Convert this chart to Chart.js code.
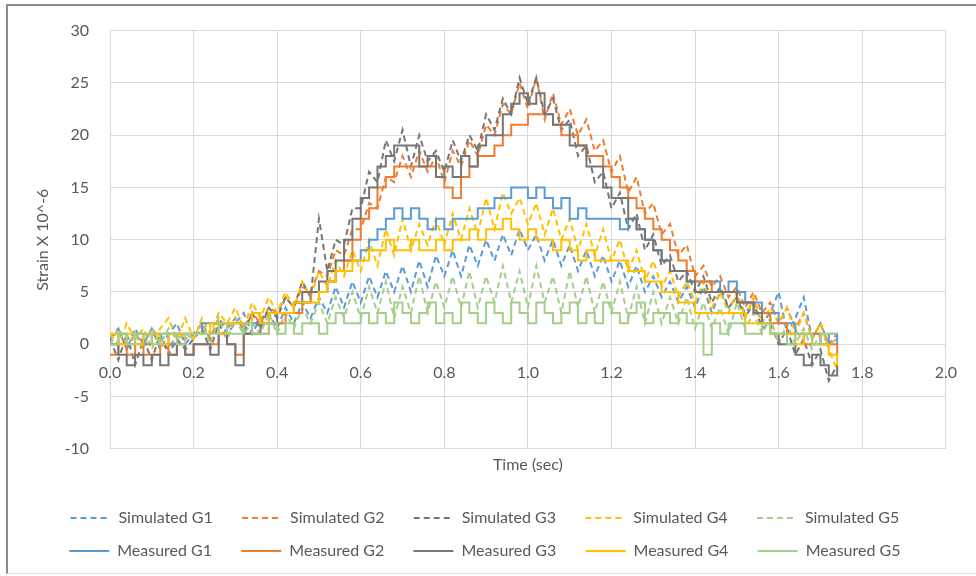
<!DOCTYPE html>
<html>
<head>
<meta charset="utf-8">
<script src="https://cdn.jsdelivr.net/npm/chart.js@4.4.0/dist/chart.umd.min.js"></script>
<style>
  html, body { margin: 0; padding: 0; background: #fff; }
  #wrap { position: relative; width: 976px; height: 576px; overflow: hidden; }
  #frame { position: absolute; left: 6px; top: 4px; width: 980px; height: 567px; border-left: 2px solid #8c8c8c; border-top: 2px solid #8c8c8c; border-bottom: 1px solid #e4e4e4; pointer-events: none; }
</style>
</head>
<body>
<div id="wrap">
  <canvas id="strainChart" width="976" height="576"></canvas>
  <div id="frame"></div>
</div>
<script>
// time axis (sec)
const time = [
  0, 0.02, 0.04, 0.06, 0.08, 0.1, 0.12, 0.14, 0.16, 0.18,
  0.2, 0.22, 0.24, 0.26, 0.28, 0.3, 0.32, 0.34, 0.36, 0.38,
  0.4, 0.42, 0.44, 0.46, 0.48, 0.5, 0.52, 0.54, 0.56, 0.58,
  0.6, 0.62, 0.64, 0.66, 0.68, 0.7, 0.72, 0.74, 0.76, 0.78,
  0.8, 0.82, 0.84, 0.86, 0.88, 0.9, 0.92, 0.94, 0.96, 0.98,
  1.0, 1.02, 1.04, 1.06, 1.08, 1.1, 1.12, 1.14, 1.16, 1.18,
  1.2, 1.22, 1.24, 1.26, 1.28, 1.3, 1.32, 1.34, 1.36, 1.38,
  1.4, 1.42, 1.44, 1.46, 1.48, 1.5, 1.52, 1.54, 1.56, 1.58,
  1.6, 1.62, 1.64, 1.66, 1.68, 1.7, 1.72, 1.74
];

// simulated strain (x 10^-6)
const simG1 = [
  0.5, 1.5, -0.5, 1.5, 0, 1.5, -0.5, 1, 2, 0,
  1, 2, 0.5, 2.5, 1, 2, 3, 1, 2.5, 3,
  1.5, 3.5, 2, 4, 2.5, 4.5, 3, 5.5, 3.5, 6,
  4, 6.5, 4.5, 7, 5, 7.5, 5, 8, 5.5, 8.5,
  6.5, 9, 6.5, 9.5, 7.5, 10, 8, 10.5, 8.5, 11,
  9, 10.5, 8, 10, 7.5, 9.5, 7, 9, 6.5, 8.5,
  6, 8, 5.5, 7.5, 5, 6.5, 4.5, 6, 4, 5.5,
  3.5, 5.5, 3, 5, 3.5, 4.5, 3, 4, 2, 3,
  5, 1, 2.5, 4.5, 0.5, 2, 0, 0.5
];
const simG2 = [
  0, 1.5, -0.5, 1, 0, 1.5, 0.5, -0.5, 1, 0.5,
  1, 2, 0.5, 2.5, 1.5, 2.5, 1.5, 3, 2, 3.5,
  3, 4.5, 3.5, 5.5, 5, 7, 6.5, 9, 8.5, 11,
  11, 13.5, 13, 16, 15.5, 18, 16, 18.5, 16.5, 18,
  15.5, 18.5, 17, 19.5, 18, 21, 20, 23, 22, 25,
  22.5, 25.5, 21.5, 24, 21, 22.5, 20, 21.5, 18.5, 19.5,
  16.5, 18, 14.5, 16, 12.5, 13.5, 10.5, 11.5, 8.5, 9.5,
  6.5, 7.5, 5.5, 6.5, 4.5, 5.5, 3.5, 5, 3, 4,
  2, 3.5, 1.5, 3, 0.5, 2, 0, 1
];
const simG3 = [
  0.5, -1.5, 1, -2, 0.5, -1.5, 1, -1, 0.5, -0.5,
  0.5, 1.5, -0.5, 2, 0.5, 2.5, 1, 3, 1.5, 3.5,
  2.5, 4.5, 3.5, 6, 4.5, 12, 7, 10, 9.5, 13,
  13, 16.5, 15.5, 19.5, 17.5, 20.5, 17, 20, 17.5, 18.5,
  16.5, 19.5, 17.5, 20, 18.5, 22, 20.5, 23.5, 22, 25.5,
  23, 25.5, 22, 23.5, 20.5, 21.5, 18, 19, 15.5, 16.5,
  13, 14.5, 11, 12.5, 9, 10.5, 7.5, 8.5, 6, 7,
  5, 6.5, 4, 5.5, 3.5, 4.5, 2.5, 4, 1.5, 2,
  0, 1.5, -1, 0.5, -2, -0.5, -3.5, -2
];
const simG4 = [
  1, 0, 2, 0.5, 1.5, -0.5, 1.5, 2.5, 0.5, 2.5,
  0.5, 2.5, 1, 3, 2, 3.5, 1.5, 4, 2.5, 4.5,
  3, 5, 3.5, 6, 4.5, 7, 5.5, 8, 6.5, 9,
  7, 10, 7.5, 11, 8.5, 12, 9, 11.5, 9.5, 12,
  9.5, 12.5, 10, 13, 10.5, 14, 11, 14.5, 12.5, 14,
  11.5, 13.5, 10.5, 13, 10, 12, 9, 11.5, 8.5, 11,
  8, 10, 7, 9, 6, 8, 5.5, 7, 4.5, 6,
  4, 6, 3.5, 5, 3, 5, 2.5, 4.5, 2, 3.5,
  2, 3.5, 1, 3, 0.5, 2, -0.5, -2.5
];
const simG5 = [
  0, 1.5, 0, 1, -0.5, 1.5, 0, 1.5, 0.5, 1,
  0.5, 2, 0, 2.5, 0.5, 2.5, 1, 2, 1, 3,
  1, 3, 1.5, 3.5, 2, 4, 2, 4.5, 2.5, 5,
  2.5, 5.5, 3, 6, 2.5, 5.5, 3, 6.5, 3, 6,
  3.5, 6.5, 3.5, 7, 3.5, 6.5, 4, 7.5, 4, 7,
  3.5, 7.5, 4, 6.5, 3, 7, 3.5, 6.5, 3, 6,
  3, 6, 2.5, 5.5, 2, 5, 2, 4.5, 2, 4.5,
  1.5, 4, 1.5, 3.5, 1, 4, 1.5, 3, 1, 2.5,
  0, 2, 0, 1.5, -0.5, 1, 0, 0.5
];

// measured strain (x 10^-6)
const measG1 = [
  0, 1, 0, 1, 0, 1, 1, 0, 1, 1,
  1, 2, 2, 2, 2, 2, 1, 2, 2, 3,
  3, 3, 4, 4, 5, 5, 6, 7, 8, 8,
  9, 10, 11, 12, 13, 12, 13, 12, 11, 12,
  11, 12, 12, 12, 13, 13, 14, 14, 15, 15,
  14, 15, 14, 13, 14, 12, 13, 12, 12, 12,
  12, 11, 12, 11, 10, 9, 8, 7, 7, 6,
  6, 6, 6, 5, 6, 5, 4, 4, 3, 3,
  2, 2, 1, 1, 1, 0, 1, 0
];
const measG2 = [
  -1, 0, -1, 0, -1, -1, 0, -1, 0, -1,
  0, 0, 0, 1, 0, -1, 1, 1, 1, 2,
  2, 3, 3, 4, 5, 5, 6, 7, 8, 10,
  12, 13, 15, 16, 17, 17, 17, 17, 17, 16,
  15, 14, 16, 17, 18, 18, 19, 20, 21, 21,
  22, 22, 22, 21, 20, 20, 19, 18, 18, 17,
  16, 15, 14, 13, 12, 11, 10, 9, 8, 7,
  6, 6, 5, 5, 5, 4, 4, 3, 3, 2,
  2, 1, 1, 0, 1, 0, 0, -1
];
const measG3 = [
  0, -1, -2, -1, -2, -1, -2, -1, 0, -1,
  0, 0, -1, 1, 0, -2, 1, 1, 2, 2,
  3, 3, 4, 5, 5, 6, 7, 8, 10, 12,
  14, 15, 17, 18, 19, 19, 19, 17, 18, 16,
  17, 16, 18, 17, 19, 20, 20, 22, 23, 24,
  23, 24, 22, 21, 21, 19, 19, 17, 17, 15,
  14, 14, 12, 11, 10, 9, 8, 7, 7, 6,
  5, 5, 5, 5, 5, 4, 4, 3, 2, 1,
  0, 0, -1, -2, -1, -2, -3, -2
];
const measG4 = [
  1, 0, 1, 0, 1, 1, 0, 1, 1, 1,
  1, 1, 2, 1, 2, 2, 2, 3, 2, 3,
  3, 3, 4, 4, 4, 5, 6, 7, 7, 8,
  8, 9, 9, 10, 9, 9, 10, 9, 9, 10,
  9, 10, 10, 11, 10, 11, 11, 12, 11, 10,
  11, 10, 10, 9, 10, 9, 8, 9, 8, 8,
  8, 8, 7, 7, 6, 6, 5, 5, 4, 4,
  3, 3, 3, 3, 3, 3, 2, 2, 2, 1,
  1, 1, 0, 1, 0, 0, -1, -2
];
const measG5 = [
  0, 1, 0, 1, 1, 0, 1, 1, 0, 1,
  1, 1, 1, 2, 1, 1, 2, 1, 1, 2,
  1, 2, 1, 2, 2, 1, 2, 3, 2, 2,
  3, 2, 3, 2, 4, 3, 2, 3, 4, 2,
  3, 2, 4, 3, 2, 4, 3, 2, 4, 3,
  2, 4, 3, 2, 3, 4, 2, 3, 2, 4,
  3, 2, 3, 4, 2, 3, 3, 2, 3, 2,
  2, -1, 2, 1, 2, 2, 1, 1, 2, 1,
  1, 0, 1, 1, 0, 1, 1, 1
];

const xTicks = [0, 0.2, 0.4, 0.6, 0.8, 1.0, 1.2, 1.4, 1.6, 1.8, 2.0];

const seriesNames = [
  'Simulated G1', 'Simulated G2', 'Simulated G3', 'Simulated G4', 'Simulated G5',
  'Measured G1', 'Measured G2', 'Measured G3', 'Measured G4', 'Measured G5'
];
const seriesValues = [simG1, simG2, simG3, simG4, simG5, measG1, measG2, measG3, measG4, measG5];
const groupColors = ['#5B9BD5', '#ED7D31', '#767676', '#FFC000', '#A3CF8A'];

const textColor = '#595959';
const gridColor = '#D9D9D9';
const baseFont = { family: 'Lato', size: 16 };

function toPoints(values) {
  return values.map((v, i) => ({ x: time[i], y: v }));
}

const datasets = seriesValues.map((values, k) => {
  const measured = k >= 5;
  return {
    label: seriesNames[k],
    data: toPoints(values),
    borderColor: groupColors[k % 5],
    backgroundColor: groupColors[k % 5],
    borderWidth: 2,
    borderDash: measured ? [] : [6, 4],
    stepped: measured,
    pointRadius: 0,
    tension: 0,
    order: 10 - k, // later series drawn on top, like Excel
    xAxisID: 'x',
    yAxisID: 'y'
  };
});

new Chart(document.getElementById('strainChart'), {
  type: 'line',
  data: { datasets: datasets },
  options: {
    responsive: false,
    animation: false,
    layout: { padding: { left: 6, right: 0, top: 27, bottom: 7 } },
    scales: {
      x: {
        type: 'linear',
        position: { y: 0 },
        min: 0,
        max: 2,
        afterBuildTicks: (scale) => { scale.ticks = xTicks.map(v => ({ value: v })); },
        ticks: {
          callback: (v) => Number(v).toFixed(1),
          color: textColor,
          font: baseFont,
          padding: 19,
          maxRotation: 0
        },
        grid: { color: gridColor, drawTicks: false },
        border: { display: true, color: gridColor }
      },
      x2: {
        type: 'linear',
        position: 'bottom',
        min: 0,
        max: 2,
        ticks: { display: false },
        grid: { display: false, drawTicks: false },
        border: { display: false },
        title: {
          display: true,
          text: 'Time (sec)',
          color: textColor,
          font: baseFont,
          padding: { top: 6, bottom: 19 }
        }
      },
      y: {
        min: -10,
        max: 30,
        ticks: { stepSize: 5, color: textColor, font: baseFont, padding: 21 },
        grid: { color: gridColor, drawTicks: false },
        border: { display: false },
        title: {
          display: true,
          text: 'Strain X 10^-6',
          color: textColor,
          font: baseFont,
          padding: { top: 27, bottom: 0 }
        },
        afterFit: (scale) => { scale.width = 104; }
      },
      yR: {
        position: 'right',
        min: -10,
        max: 30,
        ticks: { display: false },
        grid: { display: false, drawTicks: false },
        border: { display: false },
        afterFit: (scale) => { scale.width = 24; }
      }
    },
    plugins: {
      legend: {
        position: 'bottom',
        labels: {
          usePointStyle: true,
          pointStyle: 'line',
          pointStyleWidth: 40,
          padding: 17,
          color: textColor,
          font: baseFont,
          // dashed samples for simulated series, wider items like Excel's legend grid
          generateLabels: (chart) => {
            const items = Chart.defaults.plugins.legend.labels.generateLabels(chart);
            items.forEach(item => {
              item.lineDash = chart.data.datasets[item.datasetIndex].borderDash;
              item.text = item.text + '   ';
            });
            return items;
          },
          sort: (a, b) => a.datasetIndex - b.datasetIndex
        }
      },
      tooltip: { enabled: false }
    }
  }
});
</script>
</body>
</html>
